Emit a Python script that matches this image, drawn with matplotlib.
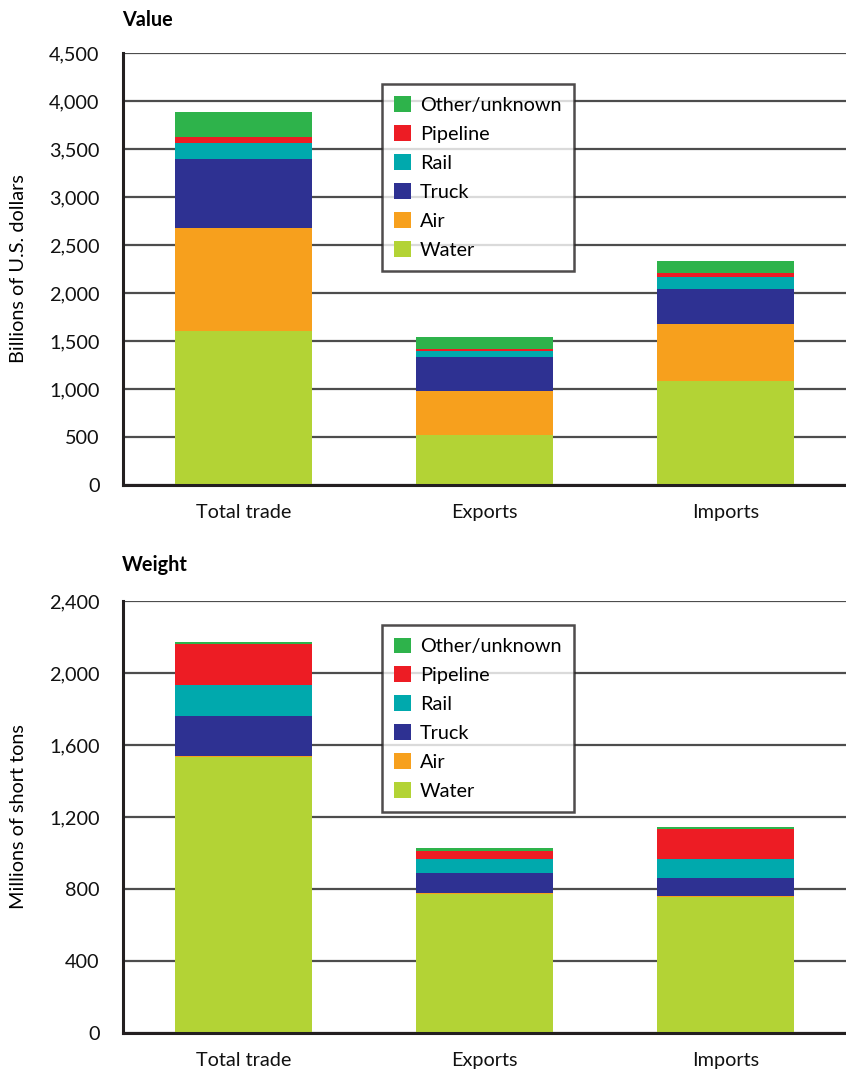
import matplotlib
matplotlib.use("Agg")
import matplotlib.pyplot as plt
from matplotlib.patches import Patch
import numpy as np

plt.rcParams['font.family'] = ['Lato', 'DejaVu Sans']

categories = ["Total trade", "Exports", "Imports"]
modes = ["Water", "Air", "Truck", "Rail", "Pipeline", "Other/unknown"]
colors = ["#B3D335", "#F7A01D", "#2E3192", "#00A9AD", "#ED1C24", "#2EB34B"]

# Value, billions of U.S. dollars (per category: Total, Exports, Imports)
value_water = [1604, 521, 1083]
value_air = [1070, 462, 594]
value_truck = [719, 354, 365]
value_rail = [170, 59, 121]
value_pipeline = [62, 18, 49]
value_other = [261, 125, 122]

# Weight, millions of short tons
weight_water = [1532, 774, 757]
weight_air = [5, 2, 3]
weight_truck = [222, 115, 103]
weight_rail = [174, 74, 102]
weight_pipeline = [226, 48, 170]
weight_other = [15, 17, 9]

value_ticks = [0, 500, 1000, 1500, 2000, 2500, 3000, 3500, 4000, 4500]
weight_ticks = [0, 400, 800, 1200, 1600, 2000, 2400]

FS = 14.3
W, H = 846, 1070
fig = plt.figure(figsize=(W / 100, H / 100), dpi=100)

def make_axes(top_px, bot_px):
    left = 123 / W
    return fig.add_axes([left, 1 - bot_px / H, 1 - left, (bot_px - top_px) / H])

def draw(ax, series, ticks, legend_top):
    x = np.arange(len(categories))
    bottom = np.zeros(len(categories))
    for vals, c in zip(series, colors):
        ax.bar(x, vals, width=0.57, bottom=bottom, color=c, edgecolor='none', zorder=3)
        bottom += np.array(vals)
    ax.set_xlim(-0.5, 2.5)
    ax.set_ylim(ticks[0], ticks[-1])
    ax.set_yticks(ticks)
    ax.set_yticklabels([f"{t:,}" for t in ticks])
    ax.set_xticks(x)
    ax.set_xticklabels(categories)
    ax.tick_params(axis='y', length=0, pad=17, labelsize=FS, colors='#111111')
    ax.tick_params(axis='x', length=0, pad=14, labelsize=FS, colors='#111111')
    ax.grid(axis='y', color='#4d4d4d', linewidth=1.6, zorder=1)
    for s in ['top', 'right']:
        ax.spines[s].set_visible(False)
    for s in ['left', 'bottom']:
        ax.spines[s].set_color('#231f20')
        ax.spines[s].set_linewidth(2.2)
        ax.spines[s].set_zorder(4)
    handles = [Patch(facecolor=c, edgecolor='none') for c in colors][::-1]
    labels = modes[::-1]
    leg = ax.legend(handles, labels, loc='upper left', bbox_to_anchor=(0.358, legend_top),
                    fontsize=FS, frameon=True, fancybox=False, handlelength=0.85,
                    handleheight=0.85, handletextpad=0.45, labelspacing=0.56,
                    borderpad=0.62, borderaxespad=0)
    leg.get_frame().set_edgecolor('#231f20')
    leg.get_frame().set_linewidth(1.8)
    leg.set_zorder(5)

ax1 = make_axes(53, 485)
draw(ax1, [value_water, value_air, value_truck, value_rail, value_pipeline, value_other],
     value_ticks, 0.928)
ax2 = make_axes(601, 1033)
draw(ax2, [weight_water, weight_air, weight_truck, weight_rail, weight_pipeline, weight_other],
     weight_ticks, 0.944)

fig.text(122 / W, 1 - 20 / H, "Value", fontweight='bold', fontsize=FS, ha='left', va='center')
fig.text(122 / W, 1 - 565 / H, "Weight", fontweight='bold', fontsize=FS, ha='left', va='center')
fig.text(18 / W, 1 - 269 / H, "Billions of U.S. dollars", rotation=90, fontsize=FS,
         ha='center', va='center')
fig.text(18 / W, 1 - 817 / H, "Millions of short tons", rotation=90, fontsize=FS,
         ha='center', va='center')

fig.savefig("out.png", dpi=100)
